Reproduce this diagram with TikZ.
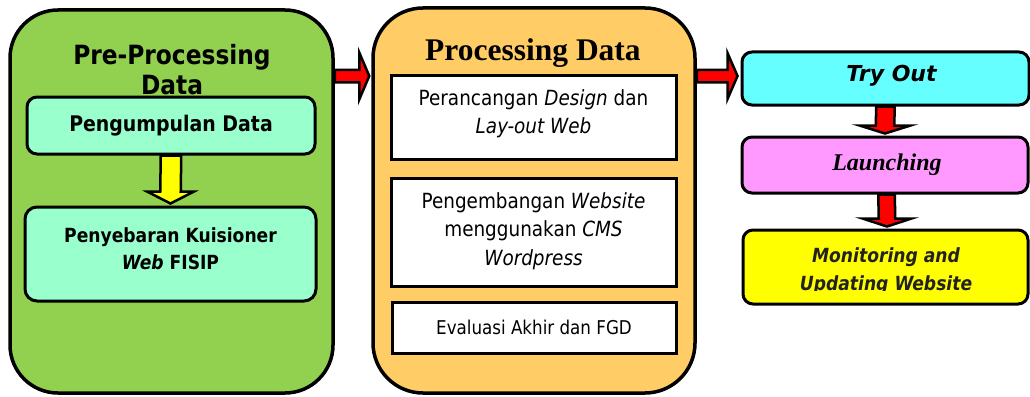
\documentclass[tikz,border=0pt]{standalone}
\usepackage{fontspec}
\usetikzlibrary{calc}
\newfontfamily\tah[FakeStretch=0.88]{DejaVu Sans}
\newfontfamily\tahw{DejaVu Sans}
\newfontfamily\tim{Liberation Serif}
\definecolor{cgreen}{HTML}{92D050}
\definecolor{cmint}{HTML}{99FFCC}
\definecolor{corange}{HTML}{FFCC66}
\definecolor{ccyan}{HTML}{66FFFF}
\definecolor{cpink}{HTML}{FF99FF}
\definecolor{cyellow}{HTML}{FFFF00}
\definecolor{cred}{HTML}{FF0000}
\definecolor{ctext}{HTML}{222222}
% vertical block arrow: from, to, shaft half, head half, head length, colour
\newcommand\vblock[6]{%
  \draw[blockarr,fill=#6] ($(#1)+(-#3,0)$) -- ($(#2)+(-#3,-#5)$) -- ($(#2)+(-#4,-#5)$) -- (#2)
    -- ($(#2)+(#4,-#5)$) -- ($(#2)+(#3,-#5)$) -- ($(#1)+(#3,0)$) -- cycle;}
% horizontal block arrow
\newcommand\hblock[6]{%
  \draw[blockarr,fill=#6] ($(#1)+(0,-#3)$) -- ($(#2)+(-#5,-#3)$) -- ($(#2)+(-#5,-#4)$) -- (#2)
    -- ($(#2)+(-#5,#4)$) -- ($(#2)+(-#5,#3)$) -- ($(#1)+(0,#3)$) -- cycle;}
\begin{document}
\begin{tikzpicture}[x=1pt,y=-1pt,
  bigbox/.style={draw=black,line width=3.5pt,rounded corners=48pt,inner sep=0pt},
  roundbox/.style={draw=black,line width=3pt,rounded corners=10pt,inner sep=0pt,align=center},
  sharpbox/.style={draw=black,line width=3pt,inner sep=0pt,align=center},
  blockarr/.style={draw=black,line width=2.5pt,line join=miter},
  txt/.style={inner sep=0pt,align=center}]
\useasboundingbox (0,0) rectangle (1030,396);
\fill[white] (0,0) rectangle (1030,396);

% ---------- Pre-processing ----------
\node[bigbox,fill=cgreen,minimum width=323pt,minimum height=383pt] (pre) at (171.5,201.5) {};
\node[txt,font=\tah\bfseries\fontsize{26.5}{30}\selectfont] (pretitle) at (172,70) {Pre-Processing\\Data};
\node[roundbox,fill=cmint,minimum width=288pt,minimum height=57pt,
  font=\tah\bfseries\fontsize{21.5}{26}\selectfont] (kumpul) at (171,125.5) {Pengumpulan Data};
\node[roundbox,fill=cmint,minimum width=291pt,minimum height=94pt,rounded corners=12pt] (sebar) at (170.5,254) {};
\node[txt,font=\tah\bfseries\fontsize{19.5}{27}\selectfont] (sebartext) at ([yshift=5.5pt]sebar.center)
  {Penyebaran Kuisioner\\\textit{Web} FISIP};
\coordinate (ytip) at ([yshift=2pt]sebar.north);
\vblock{kumpul.south}{ytip}{10.25}{23.5}{12}{cyellow}

% ---------- Processing ----------
\node[bigbox,fill=corange,rounded corners=50pt,minimum width=322pt,minimum height=385pt] (proc) at (534,200.5) {};
\node[txt,font=\tim\bfseries\fontsize{31.5}{36}\selectfont] (proctitle) at (533,53) {Processing Data};
\node[sharpbox,fill=white,minimum width=285pt,minimum height=84pt] (design) at (533.5,117) {};
\node[txt,font=\tah\fontsize{20.9}{28}\selectfont] (designtext) at ([yshift=3pt]design.center)
  {Perancangan \textit{Design} dan\\\textit{Lay-out Web}};
\node[sharpbox,fill=white,minimum width=285pt,minimum height=108pt] (kembang) at (533.5,232) {};
\node[txt,font=\tah\fontsize{20.9}{28.5}\selectfont] (kembangtext) at ([yshift=1pt]kembang.center)
  {Pengembangan \textit{Website}\\menggunakan \textit{CMS}\\\textit{Wordpress}};
\node[sharpbox,fill=white,minimum width=284pt,minimum height=51pt,
  font=\tah\fontsize{19}{24}\selectfont] (eval) at (534,327.5) {Evaluasi Akhir dan FGD};

% ---------- Right column ----------
\node[roundbox,fill=ccyan,minimum width=287pt,minimum height=53pt] (try) at (885.5,78.5) {};
\node[txt,font=\tahw\bfseries\itshape\fontsize{22}{26}\selectfont] (trytext) at ([xshift=6pt,yshift=3pt]try.center) {Try Out};
\node[roundbox,fill=cpink,minimum width=286pt,minimum height=56pt] (launch) at (885,165) {};
\node[txt,font=\tim\bfseries\itshape\fontsize{24}{28}\selectfont] (launchtext) at ([xshift=2pt]launch.center) {Launching};
\node[roundbox,fill=cyellow,minimum width=285pt,minimum height=74pt] (monitor) at (885.5,267) {};
\begin{scope}
\clip (743,232) rectangle (1028,290);
\node[txt,text=ctext,font=\tah\bfseries\itshape\fontsize{19.5}{28}\selectfont] (montext) at (886,271)
  {Monitoring and\\Updating Website};
\end{scope}

\coordinate (rtip1) at ([yshift=2pt]launch.north);
\vblock{try.south}{rtip1}{9.25}{25.5}{8}{cred}
\coordinate (rs2) at ([xshift=1.5pt]launch.south);
\coordinate (rtip2) at ([xshift=1.5pt,yshift=2pt]monitor.north);
\vblock{rs2}{rtip2}{8.25}{24.5}{8}{cred}

% ---------- horizontal arrows ----------
\coordinate (h1s) at (pre.east |- 0,76);
\coordinate (h1e) at ([xshift=-2pt]proc.west |- 0,76);
\hblock{h1s}{h1e}{6.25}{23.5}{10}{cred}
\coordinate (h2s) at (proc.east |- 0,76);
\coordinate (h2e) at ([xshift=-3pt]try.west |- 0,76);
\hblock{h2s}{h2e}{6.25}{23}{10}{cred}
\end{tikzpicture}
\end{document}
